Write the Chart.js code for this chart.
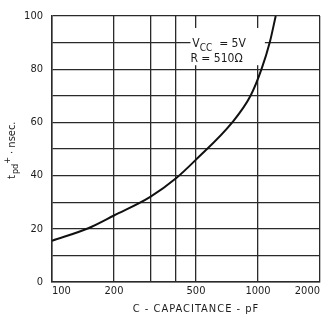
<!DOCTYPE html>
<html><head><meta charset="utf-8">
<script src="https://cdn.jsdelivr.net/npm/chart.js@4/dist/chart.umd.min.js"></script>
<style>html,body{margin:0;padding:0;background:#fff}#w{width:329px;height:320px;position:relative}</style>
</head><body><div id="w"><canvas id="c"></canvas></div>
<script>
// Data
const capacitance = [100,  150,  200, 300, 400, 500, 750, 920, 1040, 1140, 1219];
const delay       = [15.5, 20.2, 25,  32,  39,  46,  60,  70,  80,   90,   100];
const xGridValues = [100, 200, 300, 400, 500, 1000, 2000];
const xLabelValues = [100, 200, 500, 1000, 2000];
const yLabelValues = [0, 20, 40, 60, 80, 100];
const xTitle = "C - CAPACITANCE - pF";
const noteLine1 = ["V", "CC", "  = 5V"];
const noteLine2 = "R = 510Ω";
const yTitleParts = ["t", "pd", "+", " · nsec."];

const FONT = "'Liberation Sans Narrow','DejaVu Sans Condensed','Liberation Sans',sans-serif";
const INK = '#1c1c1c';

const textPlugin = {
  id: 'texts',
  beforeDatasetsDraw(chart) {
    const ctx = chart.ctx;
    const x = chart.scales.x, y = chart.scales.y;
    ctx.save();
    ctx.fillStyle = '#fff';
    const l = x.getPixelForValue(470), r = x.getPixelForValue(1080);
    const t = y.getPixelForValue(95.5), b = y.getPixelForValue(81.5);
    ctx.fillRect(l, t, r - l, b - t);
    ctx.restore();
  },
  afterDraw(chart) {
    const ctx = chart.ctx;
    const x = chart.scales.x, y = chart.scales.y;
    ctx.save();
    ctx.fillStyle = INK;
    ctx.textBaseline = 'alphabetic';
    let px = x.getPixelForValue(480), py = y.getPixelForValue(88.5);
    ctx.font = "12px " + FONT;
    ctx.fillText(noteLine1[0], px, py);
    px += ctx.measureText(noteLine1[0]).width;
    ctx.font = "10px " + FONT;
    ctx.fillText(noteLine1[1], px, py + 4);
    px += ctx.measureText(noteLine1[1]).width;
    ctx.font = "12px " + FONT;
    ctx.fillText(noteLine1[2], px, py);
    ctx.fillText(noteLine2, x.getPixelForValue(470), y.getPixelForValue(82.6));
    ctx.font = "11px " + FONT;
    ctx.textAlign = 'center';
    if ('letterSpacing' in ctx) ctx.letterSpacing = '1px';
    ctx.fillText(xTitle, 196, 312);
    if ('letterSpacing' in ctx) ctx.letterSpacing = '0px';
    ctx.translate(15, 179);
    ctx.rotate(-Math.PI / 2);
    ctx.textAlign = 'left';
    let tx = 0;
    ctx.font = "11px " + FONT;
    ctx.fillText(yTitleParts[0], tx, 0); tx += ctx.measureText(yTitleParts[0]).width + 1;
    ctx.font = "9px " + FONT;
    ctx.fillText(yTitleParts[1], tx, 3); tx += ctx.measureText(yTitleParts[1]).width;
    ctx.fillText(yTitleParts[2], tx, -5); tx += ctx.measureText(yTitleParts[2]).width;
    ctx.font = "11px " + FONT;
    ctx.fillText(yTitleParts[3], tx, 0);
    ctx.restore();
  }
};

new Chart(document.getElementById('c'), {
  type: 'scatter',
  data: {
    datasets: [{
      data: capacitance.map((c, i) => ({ x: c, y: delay[i] })),
      showLine: true,
      cubicInterpolationMode: 'monotone',
      borderColor: '#111',
      borderWidth: 2,
      pointRadius: 0,
      fill: false
    }]
  },
  options: {
    responsive: true,
    maintainAspectRatio: false,
    animation: false,
    layout: { padding: { top: 16, right: 9, left: 0, bottom: 0 } },
    plugins: { legend: { display: false }, tooltip: { enabled: false } },
    scales: {
      x: {
        type: 'logarithmic',
        min: 100, max: 2000,
        afterBuildTicks(scale) { scale.ticks = xGridValues.map(v => ({ value: v })); },
        afterFit(scale) { scale.height = 38; },
        ticks: {
          autoSkip: false, maxRotation: 0, align: 'inner', padding: 3,
          color: INK, font: { family: FONT, size: 11 },
          callback: v => xLabelValues.includes(v) ? String(v) : ''
        },
        grid: { color: '#2a2a2a', lineWidth: 1.3, drawTicks: false },
        border: { color: '#2a2a2a', width: 1.5 }
      },
      y: {
        min: 0, max: 100,
        ticks: {
          stepSize: 10, padding: 9, color: INK, font: { family: FONT, size: 11 },
          callback: v => yLabelValues.includes(v) ? String(v) : ''
        },
        afterFit(scale) { scale.width = 52; },
        grid: { color: '#2a2a2a', lineWidth: 1.3, drawTicks: false },
        border: { color: '#2a2a2a', width: 1.5 }
      }
    }
  },
  plugins: [textPlugin]
});
</script>
</body></html>
